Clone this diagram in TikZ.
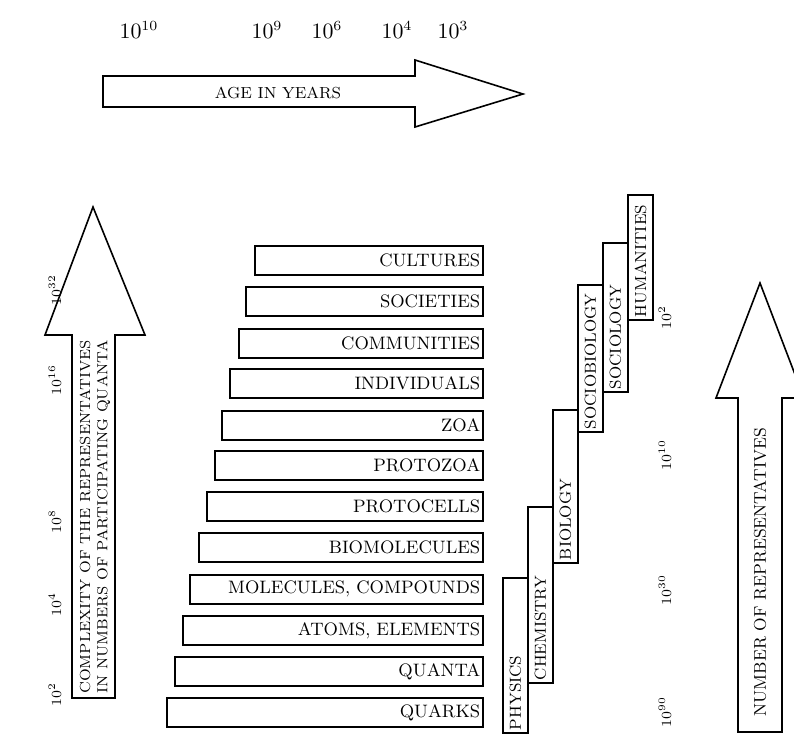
\documentclass[tikz,border=0pt]{standalone}
\usepackage{amsmath}
\begin{document}
\begin{tikzpicture}[x=0.5pt, y=-0.5pt, thick,
  bar/.style={draw, anchor=north east, minimum height=14.5pt, inner xsep=1.5pt, inner ysep=0pt, align=right, font=\fontsize{9}{10}\selectfont},
  field/.style={draw, rotate=90, minimum height=12.5pt, inner xsep=1.5pt, inner ysep=0pt, align=left, font=\fontsize{8}{9}\selectfont},
  power/.style={rotate=90, font=\fontsize{7}{8}\selectfont},
  toppower/.style={font=\fontsize{10.5}{12}\selectfont},
  arrowtext/.style={font=\fontsize{8}{9.5}\selectfont}]
\clip (0,0) rectangle (794,735);

% age axis
\draw (103,76) -- (415,76) -- (415,60) -- (523,94) -- (415,127) -- (415,107) -- (103,107) -- cycle;
\node [arrowtext] (age) at (278,93) {AGE IN YEARS};
\node [toppower] (t1) at (139,30) {$10^{10}$};
\node [toppower] (t2) at (267,30) {$10^{9}$};
\node [toppower] (t3) at (327,30) {$10^{6}$};
\node [toppower] (t4) at (397,30) {$10^{4}$};
\node [toppower] (t5) at (453,30) {$10^{3}$};

% complexity axis
\draw (72,698) -- (72,335) -- (45,335) -- (93,207) -- (145,335) -- (115,335) -- (115,698) -- cycle;
\node [rotate=90, align=center, font=\fontsize{7.3}{8.6}\selectfont] (cplx) at (95,517) {COMPLEXITY OF THE REPRESENTATIVES\\IN NUMBERS OF PARTICIPATING QUANTA};
\node [power] (l1) at (55,290) {$10^{32}$};
\node [power] (l2) at (55,380) {$10^{16}$};
\node [power] (l3) at (55,522) {$10^{8}$};
\node [power] (l4) at (55,605) {$10^{4}$};
\node [power] (l5) at (55,695) {$10^{2}$};

% levels
\node [bar, text width=111pt] (b1) at (484,245) {CULTURES};
\node [bar, text width=115.5pt] (b2) at (484,286) {SOCIETIES};
\node [bar, text width=119pt] (b3) at (484,328) {COMMUNITIES};
\node [bar, text width=123.5pt] (b4) at (484,368) {INDIVIDUALS};
\node [bar, text width=127.5pt] (b5) at (484,410) {ZOA};
\node [bar, text width=131pt] (b6) at (484,450) {PROTOZOA};
\node [bar, text width=135pt] (b7) at (484,491) {PROTOCELLS};
\node [bar, text width=139pt] (b8) at (484,532) {BIOMOLECULES};
\node [bar, text width=143.5pt] (b9) at (484,574) {MOLECULES, COMPOUNDS};
\node [bar, text width=147pt] (b10) at (484,615) {ATOMS, ELEMENTS};
\node [bar, text width=151pt] (b11) at (484,656) {QUANTA};
\node [bar, text width=155pt] (b12) at (484,697) {QUARKS};

% disciplines
\node [field, text width=74.5pt] (f1) at (515.5,655.5) {PHYSICS};
\node [field, text width=85pt] (f2) at (540.5,595) {CHEMISTRY};
\node [field, text width=73.5pt] (f3) at (565.5,486.5) {BIOLOGY};
\node [field, text width=70.5pt] (f4) at (590.5,358.5) {SOCIOBIOLOGY};
\node [field, text width=71.5pt] (f5) at (615.5,317.5) {SOCIOLOGY};
\node [field, text width=59.5pt] (f6) at (640.5,257.5) {HUMANITIES};

% number axis
\draw (738,732) -- (738,398) -- (716,398) -- (760,283) -- (804,398) -- (782,398) -- (782,732) -- cycle;
\node [arrowtext, rotate=90, font=\fontsize{8.5}{10}\selectfont] (nrep) at (760,572) {NUMBER OF REPRESENTATIVES};
\node [power] (r1) at (665,318) {$10^{2}$};
\node [power] (r2) at (665,455) {$10^{10}$};
\node [power] (r3) at (665,590) {$10^{30}$};
\node [power] (r4) at (665,712) {$10^{90}$};
\end{tikzpicture}
\end{document}
